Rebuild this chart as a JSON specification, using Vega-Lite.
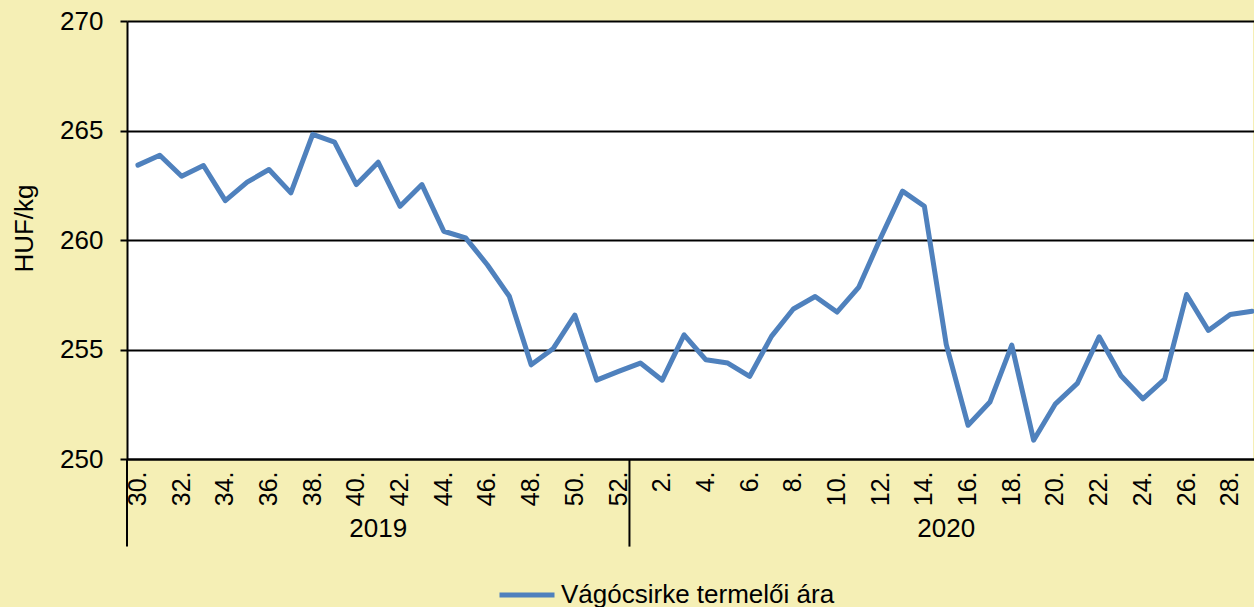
{
  "$schema": "https://vega.github.io/schema/vega-lite/v6.json",
  "width": 1126,
  "height": 438,
  "autosize": {"type": "none"},
  "padding": {"left": 127, "top": 21, "right": 1, "bottom": 148},
  "background": "#F5EFB5",
  "config": {
    "font": "Liberation Sans",
    "view": {"fill": "white", "stroke": null}
  },
  "layer": [
    {
      "data": {
        "values": [
          {"period": "2019/30", "price": 263.42},
          {"period": "2019/31", "price": 263.87},
          {"period": "2019/32", "price": 262.91},
          {"period": "2019/33", "price": 263.40},
          {"period": "2019/34", "price": 261.80},
          {"period": "2019/35", "price": 262.64},
          {"period": "2019/36", "price": 263.22},
          {"period": "2019/37", "price": 262.15},
          {"period": "2019/38", "price": 264.82},
          {"period": "2019/39", "price": 264.47},
          {"period": "2019/40", "price": 262.53},
          {"period": "2019/41", "price": 263.55},
          {"period": "2019/42", "price": 261.54},
          {"period": "2019/43", "price": 262.53},
          {"period": "2019/44", "price": 260.40},
          {"period": "2019/45", "price": 260.10},
          {"period": "2019/46", "price": 258.86},
          {"period": "2019/47", "price": 257.43},
          {"period": "2019/48", "price": 254.30},
          {"period": "2019/49", "price": 255.03},
          {"period": "2019/50", "price": 256.57},
          {"period": "2019/51", "price": 253.60},
          {"period": "2019/52", "price": 254.00},
          {"period": "2020/01", "price": 254.38},
          {"period": "2020/02", "price": 253.60},
          {"period": "2020/03", "price": 255.67},
          {"period": "2020/04", "price": 254.53},
          {"period": "2020/05", "price": 254.38},
          {"period": "2020/06", "price": 253.77},
          {"period": "2020/07", "price": 255.60},
          {"period": "2020/08", "price": 256.85},
          {"period": "2020/09", "price": 257.42},
          {"period": "2020/10", "price": 256.71},
          {"period": "2020/11", "price": 257.85},
          {"period": "2020/12", "price": 260.10},
          {"period": "2020/13", "price": 262.23},
          {"period": "2020/14", "price": 261.54},
          {"period": "2020/15", "price": 255.23},
          {"period": "2020/16", "price": 251.54},
          {"period": "2020/17", "price": 252.60},
          {"period": "2020/18", "price": 255.20},
          {"period": "2020/19", "price": 250.86},
          {"period": "2020/20", "price": 252.52},
          {"period": "2020/21", "price": 253.45},
          {"period": "2020/22", "price": 255.58},
          {"period": "2020/23", "price": 253.80},
          {"period": "2020/24", "price": 252.75},
          {"period": "2020/25", "price": 253.65},
          {"period": "2020/26", "price": 257.51},
          {"period": "2020/27", "price": 255.87},
          {"period": "2020/28", "price": 256.60},
          {"period": "2020/29", "price": 256.75}
        ]
      },
      "mark": {"type": "line", "strokeWidth": 5, "strokeJoin": "round", "strokeCap": "round"},
      "encoding": {
        "x": {
          "field": "period",
          "type": "nominal",
          "bandPosition": 0.5,
          "scale": {"type": "band", "paddingInner": 0, "paddingOuter": 0, "range": [0, 1136]},
          "axis": {
            "title": null,
            "values": ["2019/30","2019/32","2019/34","2019/36","2019/38","2019/40","2019/42","2019/44","2019/46","2019/48","2019/50","2019/52","2020/02","2020/04","2020/06","2020/08","2020/10","2020/12","2020/14","2020/16","2020/18","2020/20","2020/22","2020/24","2020/26","2020/28"],
            "labelExpr": "parseInt(slice(datum.value, 5)) + '.'",
            "labelAngle": 270,
            "labelAlign": "right",
            "labelBaseline": "middle",
            "labelFontSize": 25,
            "labelColor": "black",
            "labelPadding": 12,
            "ticks": false,
            "grid": false,
            "domain": true,
            "domainColor": "black",
            "domainWidth": 2,
            "labelOverlap": false
          }
        },
        "y": {
          "field": "price",
          "type": "quantitative",
          "scale": {"domain": [250, 270], "zero": false, "nice": false},
          "axis": {
            "title": "HUF/kg",
            "titleFontSize": 26,
            "titleFontWeight": "normal",
            "titleColor": "black",
            "titleX": -95,
            "titleY": 207,
            "titleAngle": 270,
            "titleAlign": "center",
            "titleBaseline": "alphabetic",
            "values": [250, 255, 260, 265, 270],
            "labelFontSize": 26,
            "labelColor": "black",
            "labelPadding": 17,
            "tickSize": 7,
            "tickColor": "black",
            "tickWidth": 2,
            "grid": true,
            "gridColor": "black",
            "gridWidth": 2,
            "domain": true,
            "domainColor": "black",
            "domainWidth": 2
          }
        },
        "color": {
          "datum": "Vágócsirke termelői ára",
          "type": "nominal",
          "scale": {"range": ["#4F81BD"]},
          "legend": {
            "title": null,
            "orient": "none",
            "legendX": 370,
            "legendY": 544,
            "symbolType": "stroke",
            "symbolSize": 3025,
            "symbolStrokeWidth": 5,
            "labelFontSize": 26,
            "labelColor": "black",
            "labelOffset": 4,
            "labelLimit": 0
          }
        }
      }
    },
    {
      "data": {"values": [{"period": "2019/30"}, {"period": "2020/01"}]},
      "mark": {"type": "rule", "color": "black", "strokeWidth": 2},
      "encoding": {
        "x": {"field": "period", "type": "nominal", "bandPosition": 0},
        "y": {"datum": 250},
        "y2": {"datum": 246}
      }
    },
    {
      "data": {"values": [{"year": "2019", "period": "2019/41"}, {"year": "2020", "period": "2020/15"}]},
      "mark": {"type": "text", "fontSize": 26, "color": "black", "baseline": "middle", "align": "center"},
      "encoding": {
        "x": {"field": "period", "type": "nominal", "bandPosition": 0.5},
        "y": {"datum": 246.8},
        "text": {"field": "year"}
      }
    }
  ]
}
